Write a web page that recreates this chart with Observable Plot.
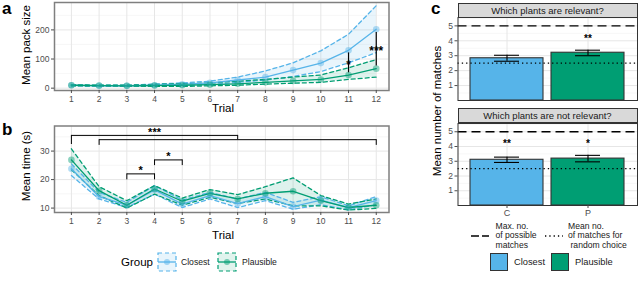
<!DOCTYPE html>
<html><head><meta charset="utf-8">
<script src="https://cdn.jsdelivr.net/npm/d3@7"></script>
<script src="https://cdn.jsdelivr.net/npm/@observablehq/plot@0.6"></script>
<style>
body{margin:0;background:#fff;font-family:"Liberation Sans",Arial,sans-serif;}
#root{position:relative;width:640px;height:289px;overflow:hidden;background:#fff;}
.abs{position:absolute;white-space:nowrap;line-height:1;}
.plot{position:absolute;}
.letter{position:absolute;font-weight:bold;font-size:17px;line-height:1;}
.ytitle{position:absolute;font-size:11.5px;line-height:1;white-space:nowrap;transform:translate(-50%,-50%) rotate(-90deg);}
.strip{position:absolute;background:#d9d9d9;border:1px solid #333;box-sizing:border-box;font-size:9.5px;color:#1a1a1a;text-align:center;}
.lg{position:absolute;font-size:8.6px;color:#1a1a1a;white-space:nowrap;line-height:1;}
</style></head><body><div id="root"></div>
<script>
// ---------------- data ----------------
const trials = [1,2,3,4,5,6,7,8,9,10,11,12];
const groups = ["Closest","Plausible"];
const groupColors = ["#56B4E9","#009E73"];

// (a) mean pack size
const packClosestMean = [10,8,8,10,13,18,28,38,62,86,130,202];
const packClosestLo   = [8,7,6,7,9,12,20,28,40,57,87,122];
const packClosestHi   = [12,10,10,14,18,24,38,59,87,128,185,283];
const packPlausMean   = [10,9,8,9,10,12,15,20,25,30,45,67];
const packPlausLo     = [8,7,6,6,6,8,10,14,17,20,30,38];
const packPlausHi     = [12,10,10,13,15,18,24,30,38,45,70,98];
const packTicks = [0,100,200];
const packMinor = [50,150,250];
const packSigTrial = [11,12];
const packSigLo = [53,76];
const packSigHi = [121,191];
const packSigLabel = ["*","***"];

// (b) mean time
const timeClosestMean = [23.8,14.0,11.0,16.4,11.4,14.4,11.6,14.0,10.5,12.8,10.2,12.6];
const timeClosestLo   = [21.4,13.2,10.2,14.9,10.2,13.2,10.2,12.6,9.6,11.2,9.4,11.2];
const timeClosestHi   = [25.5,15.5,12.0,17.9,12.8,15.5,13.2,15.5,12.0,14.0,10.8,14.0];
const timePlausMean   = [26.9,16.1,11.0,16.7,12.4,15.2,13.2,15.2,15.9,12.6,10.2,11.0];
const timePlausLo     = [23.4,14.4,10.0,14.9,11.0,13.8,11.6,13.2,10.8,10.8,9.3,9.9];
const timePlausHi     = [30.8,17.5,12.6,17.9,13.5,16.5,14.7,17.5,20.6,14.4,11.4,13.2];
const timeTicks = [10,20,30];
const timeMinor = [15,25,35];
const brFrom  = [1,2,3,4];
const brTo    = [7,12,4,5];
const brY     = [35.5,34.0,22.0,26.9];
const brDropFrom = [32.3,32.0,19.9,24.9];
const brDropTo   = [34.0,32.0,19.9,24.9];
const brLabel = ["***","","*","*"];

// (c) matches
const cats = ["C","P"];
const catColors = ["#56B4E9","#009E73"];
const relMean = [2.83,3.20];
const relLo   = [2.63,3.00];
const relHi   = [3.03,3.37];
const relStar = ["","**"];
const notMean = [3.10,3.18];
const notLo   = [2.92,2.96];
const notHi   = [3.28,3.40];
const notStar = ["**","*"];
const starLevel = 4.15;
const maxMatches = 5;
const randomMatches = 2.5;
const matchTicks = [1,2,3,4,5];
const matchMinor = [0.5,1.5,2.5,3.5,4.5,5.5];

// ---------------- helpers ----------------
const FONT = "Liberation Sans, Arial, sans-serif";
const root = document.getElementById("root");
function place(el, left, top){ el.classList.add("plot"); el.style.left=left+"px"; el.style.top=top+"px"; root.appendChild(el); }
function html(cls, text, left, top, extra){ const d=document.createElement("div"); d.className=cls; d.innerHTML=text; d.style.left=left+"px"; d.style.top=top+"px"; if(extra) Object.assign(d.style, extra); root.appendChild(d); return d; }

function rowsOf(means, los, his){
  const out=[];
  groups.forEach((g,gi)=>trials.forEach((t,i)=>out.push({trial:t, group:g, mean:means[gi][i], lo:los[gi][i], hi:his[gi][i]})));
  return out;
}

const xDomain=[0.39,12.46];
function trialPlot({rows, yDomain, yTicks, yMinor, height, marginTop, marginBottom, extra}){
  return Plot.plot({
    width:395, height, marginLeft:54, marginRight:6.5, marginTop, marginBottom,
    x:{domain:xDomain}, y:{domain:yDomain},
    color:{domain:groups, range:groupColors},
    style:{fontFamily:FONT, background:"transparent", overflow:"visible"},
    marks:[
      Plot.ruleY(yMinor,{stroke:"#f2f2f2", strokeWidth:0.6}),
      Plot.ruleY(yTicks,{stroke:"#e6e6e6", strokeWidth:1}),
      Plot.ruleX(trials,{stroke:"#e6e6e6", strokeWidth:1}),
      Plot.areaY(rows,{x:"trial", y1:"lo", y2:"hi", fill:"group", z:"group", fillOpacity:0.13}),
      Plot.lineY(rows,{x:"trial", y:"lo", stroke:"group", z:"group", strokeWidth:1.3, strokeDasharray:"4,3"}),
      Plot.lineY(rows,{x:"trial", y:"hi", stroke:"group", z:"group", strokeWidth:1.3, strokeDasharray:"4,3"}),
      Plot.lineY(rows,{x:"trial", y:"mean", stroke:"group", z:"group", strokeWidth:1.3}),
      Plot.dot(rows,{x:"trial", y:"mean", fill:"group", r:3.3, fillOpacity:0.45}),
      ...extra,
      Plot.frame({stroke:"#7f7f7f", strokeWidth:1.5}),
      Plot.axisY(yTicks,{tickSize:3, tickPadding:2, fontSize:8.5, color:"#4d4d4d", label:null}),
      Plot.axisX(trials,{tickSize:3, tickPadding:2, fontSize:8.5, color:"#4d4d4d", label:null})
    ]
  });
}

// ---------------- panel a ----------------
const rowsA = rowsOf([packClosestMean,packPlausMean],[packClosestLo,packPlausLo],[packClosestHi,packPlausHi]);
const sigA = packSigTrial.map((t,i)=>({trial:t, lo:packSigLo[i], hi:packSigHi[i], label:packSigLabel[i], mid:(packSigLo[i]+packSigHi[i])/2}));
const plotA = trialPlot({rows:rowsA, yDomain:[-8,294], yTicks:packTicks, yMinor:packMinor, height:112, marginTop:2, marginBottom:22,
  extra:[
    Plot.ruleX(sigA,{x:"trial", y1:"lo", y2:"hi", stroke:"#000", strokeWidth:1.2}),
    Plot.text(sigA,{x:"trial", y:"mid", text:"label", fontSize:12, fontWeight:"bold", fill:"#000", dy:2})
  ]});
place(plotA,0,0);

// ---------------- panel b ----------------
const rowsB = rowsOf([timeClosestMean,timePlausMean],[timeClosestLo,timePlausLo],[timeClosestHi,timePlausHi]);
const br = brFrom.map((f,i)=>({from:f, to:brTo[i], y:brY[i], df:brDropFrom[i], dt:brDropTo[i], label:brLabel[i], mid:(f+brTo[i])/2}));
const plotB = trialPlot({rows:rowsB, yDomain:[8.45,38.8], yTicks:timeTicks, yMinor:timeMinor, height:128, marginTop:13.5, marginBottom:28,
  extra:[
    Plot.link(br,{x1:"from", x2:"to", y1:"y", y2:"y", stroke:"#000", strokeWidth:1}),
    Plot.ruleX(br,{x:"from", y1:"df", y2:"y", stroke:"#000", strokeWidth:1}),
    Plot.ruleX(br,{x:"to", y1:"dt", y2:"y", stroke:"#000", strokeWidth:1}),
    Plot.text(br,{x:"mid", y:"y", text:"label", fontSize:11, fontWeight:"bold", fill:"#000", dy:-3})
  ]});
place(plotB,0,112);

html("letter","a",2,0);
html("letter","b",2,121);
html("ytitle","Mean pack size",27,45);
html("ytitle","Mean time (s)",27,166);
html("abs","Trial",223,103,{fontSize:"11.5px",transform:"translateX(-50%)"});
html("abs","Trial",223,230,{fontSize:"11.5px",transform:"translateX(-50%)"});

// legend a/b
html("abs","Group",121,256.5,{fontSize:"11.5px"});
function groupKey(color, fill, left){
  const ns="http://www.w3.org/2000/svg";
  const s=document.createElementNS(ns,"svg"); s.setAttribute("width",20); s.setAttribute("height",20);
  s.style.position="absolute"; s.style.left=left+"px"; s.style.top="251.5px";
  s.innerHTML=`<rect x="1" y="1" width="18" height="18" fill="${fill}" stroke="${color}" stroke-width="1.2" stroke-dasharray="4,3"/>
  <line x1="1" x2="19" y1="10" y2="10" stroke="${color}" stroke-width="1.3"/>
  <circle cx="10" cy="10" r="3" fill="${color}" fill-opacity="0.5"/>`;
  root.appendChild(s);
}
groupKey("#56B4E9","#e8f5fc",156.5);
html("lg","Closest",181,257.5);
groupKey("#009E73","#e0f3ed",217);
html("lg","Plausible",242,257.5);

// ---------------- panel c ----------------
function matchPlot({mean, lo, hi, star, height, marginTop, marginBottom, showX}){
  const rows = cats.map((c,i)=>({cat:c, mean:mean[i], lo:lo[i], hi:hi[i], star:star[i]}));
  return Plot.plot({
    width:240, height, marginLeft:57.5, marginRight:3, marginTop, marginBottom,
    x:{domain:cats, paddingInner:0.1, paddingOuter:0.15, axis:null},
    y:{domain:[0,5.56]},
    color:{domain:cats, range:catColors},
    style:{fontFamily:FONT, background:"transparent", overflow:"visible"},
    marks:[
      Plot.ruleY(matchMinor,{stroke:"#f2f2f2", strokeWidth:0.6}),
      Plot.ruleY(matchTicks,{stroke:"#e6e6e6"}),
      Plot.gridX({stroke:"#e6e6e6", strokeOpacity:1}),
      Plot.barY(rows,{x:"cat", y:"mean", fill:"cat", stroke:"#333", strokeWidth:1.1}),
      Plot.ruleY([maxMatches],{stroke:"#000", strokeWidth:1.4, strokeDasharray:"9,5"}),
      Plot.ruleY([randomMatches],{stroke:"#000", strokeWidth:1.2, strokeDasharray:"1.3,3"}),
      Plot.ruleX(rows,{x:"cat", y1:"lo", y2:"hi", stroke:"#000", strokeWidth:1.1}),
      Plot.tickY(rows,{x:"cat", y:"lo", stroke:"#000", strokeWidth:1.1, inset:24}),
      Plot.tickY(rows,{x:"cat", y:"hi", stroke:"#000", strokeWidth:1.1, inset:24}),
      Plot.text(rows,{x:"cat", y:()=>starLevel, text:"star", fontSize:10, fontWeight:"bold", fill:"#000"}),
      Plot.frame({stroke:"#333", strokeWidth:1}),
      Plot.axisY(matchTicks,{tickSize:3, tickPadding:2, fontSize:8.5, color:"#4d4d4d", label:null}),
      ...(showX ? [Plot.axisX({tickSize:3, tickPadding:1, fontSize:9, color:"#4d4d4d", label:null})] : [])
    ]
  });
}
const plotC1 = matchPlot({mean:relMean, lo:relLo, hi:relHi, star:relStar, height:101, marginTop:17, marginBottom:1, showX:false});
place(plotC1,400,0);
const plotC2 = matchPlot({mean:notMean, lo:notLo, hi:notHi, star:notStar, height:124, marginTop:19, marginBottom:23, showX:true});
place(plotC2,400,104);

html("strip","Which plants are relevant?",457.5,2.5,{width:"180px",height:"15.5px",lineHeight:"14px"});
html("strip","Which plants are not relevant?",457.5,107.5,{width:"180px",height:"15.5px",lineHeight:"14px"});
html("letter","c",431,0);
html("ytitle","Mean number of matches",438,111);

// legend c
function lineKey(dash, left, top){
  const ns="http://www.w3.org/2000/svg";
  const s=document.createElementNS(ns,"svg"); s.setAttribute("width",18); s.setAttribute("height",6);
  s.style.position="absolute"; s.style.left=left+"px"; s.style.top=top+"px";
  s.innerHTML=`<line x1="0" x2="18" y1="3" y2="3" stroke="#000" stroke-width="1.4" stroke-dasharray="${dash}"/>`;
  root.appendChild(s);
}
lineKey("8,3",471,233);
html("lg","Max. no.",495.5,221.5);
html("lg","of possible",495.5,231.2);
html("lg","matches",495.5,240.9);
lineKey("1.3,3",545,233);
html("lg","Mean no.",568,221.5);
html("lg","of matches for",568,231.2);
html("lg","random choice",570.5,240.9);
function boxKey(color,left){
  const d=document.createElement("div"); d.className="abs";
  Object.assign(d.style,{left:left+"px",top:"253px",width:"18px",height:"18px",background:color,border:"1.5px solid #333",boxSizing:"border-box"});
  root.appendChild(d);
}
boxKey("#56B4E9",490);
html("lg","Closest",514,257.5,{fontSize:"9.3px"});
boxKey("#009E73",551);
html("lg","Plausible",575,257.5,{fontSize:"9.3px"});
</script></body></html>
